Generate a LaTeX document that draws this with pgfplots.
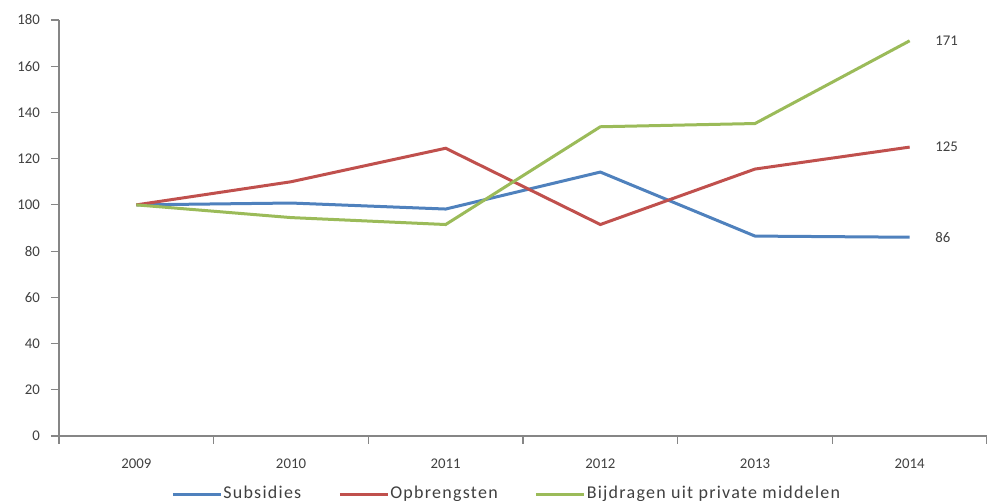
\documentclass[border=0pt]{standalone}
\usepackage{pgfplots}
\pgfplotsset{compat=1.18}
\usepackage{fontspec}
\setmainfont{Carlito}
\newfontfamily\legfont[LetterSpace=7]{Carlito}
\definecolor{cBlue}{HTML}{4F81BD}
\definecolor{cRed}{HTML}{C0504D}
\definecolor{cGreen}{HTML}{9BBB59}
\definecolor{axisgray}{HTML}{868686}
\definecolor{txtgray}{HTML}{404040}
\begin{document}
\begin{tikzpicture}
\useasboundingbox (-29.5pt,-32.5pt) rectangle (464pt,218pt);
\begin{axis}[
  scale only axis,
  width=464pt, height=208pt,
  xmin=-0.5, xmax=5.5,
  ymin=0, ymax=180,
  ytick={0,20,...,180},
  xtick={0,1,2,3,4,5},
  xticklabels={2009,2010,2011,2012,2013,2014},
  minor xtick={-0.5,0.5,1.5,2.5,3.5,4.5,5.5},
  major x tick style={draw=none},
  minor tick length=4pt,
  major tick length=4pt,
  tick align=outside,
  axis lines*=left,
  axis line style={axisgray, line width=0.6pt},
  tick style={axisgray, line width=0.6pt},
  every tick label/.append style={font=\fontsize{7.4}{8.5}\selectfont, text=txtgray},
  /pgf/number format/assume math mode=true,
  yticklabel style={xshift=-2pt},
  xticklabel style={yshift=-4pt},
  clip=false,
  legend style={at={(0.482,-0.14)}, anchor=center, draw=none, legend columns=-1,
    fill=none, inner sep=0pt,
    font=\legfont\fontsize{9}{10}\selectfont, text=txtgray,
    nodes={inner xsep=0.5pt},
    /tikz/every even column/.append style={column sep=18pt}},
  legend image code/.code={\draw[#1, line width=1.5pt] (0pt,0pt) -- (24pt,0pt);},
]
\addplot[cBlue, line width=1.5pt] coordinates {(0,100) (1,100.8) (2,98.2) (3,114.2) (4,86.5) (5,86)};
\addlegendentry{Subsidies}
\addplot[cRed, line width=1.5pt] coordinates {(0,100) (1,110) (2,124.5) (3,91.5) (4,115.5) (5,125)};
\addlegendentry{Opbrengsten}
\addplot[cGreen, line width=1.5pt] coordinates {(0,100) (1,94.5) (2,91.5) (3,133.8) (4,135.2) (5,171)};
\addlegendentry{Bijdragen uit private middelen}
\node[anchor=west, font=\fontsize{7.4}{8.5}\selectfont, text=txtgray] at (axis cs:5.12,171) {171};
\node[anchor=west, font=\fontsize{7.4}{8.5}\selectfont, text=txtgray] at (axis cs:5.12,125) {125};
\node[anchor=west, font=\fontsize{7.4}{8.5}\selectfont, text=txtgray] at (axis cs:5.12,86) {86};
\end{axis}
\end{tikzpicture}
\end{document}
